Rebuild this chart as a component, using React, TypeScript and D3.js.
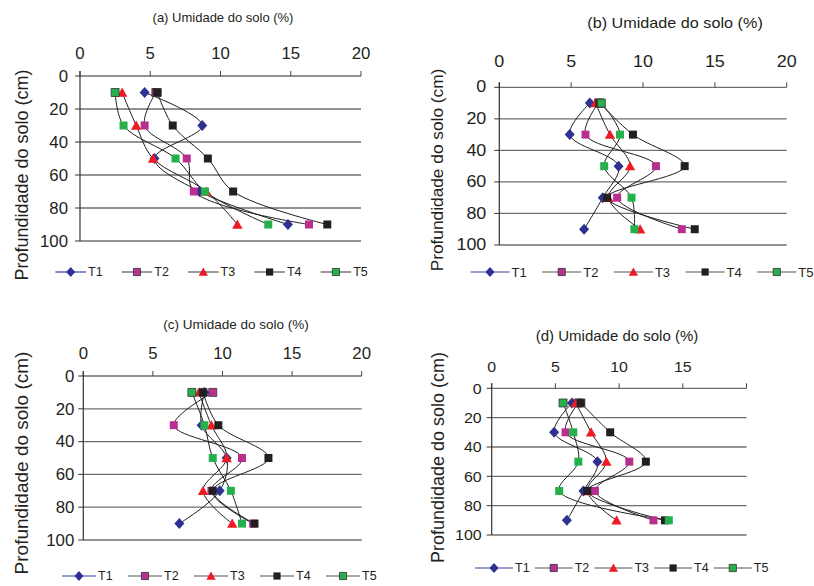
import React from 'react';
import * as d3 from 'd3';

// Sampling depths (cm) and treatments
const depths = [10, 30, 50, 70, 90];
const treatments = ['T1', 'T2', 'T3', 'T4', 'T5'];
const xTickValues = [0, 5, 10, 15, 20];
const yTickValues = [0, 20, 40, 60, 80, 100];

// Soil moisture (%) per treatment (rows T1..T5) at each depth
const moistureA = [
  [4.6, 8.7, 5.3, 8.5, 14.8],
  [5.4, 4.6, 7.6, 8.1, 16.3],
  [3.0, 4.0, 5.2, 9.0, 11.2],
  [5.5, 6.6, 9.1, 10.9, 17.6],
  [2.5, 3.1, 6.8, 8.9, 13.4],
];
const moistureB = [
  [6.3, 4.9, 8.3, 7.2, 5.9],
  [6.9, 6.0, 10.9, 8.2, 12.7],
  [6.7, 7.7, 9.1, 7.6, 9.8],
  [7.0, 9.3, 12.9, 7.5, 13.6],
  [7.1, 8.4, 7.3, 9.2, 9.4],
];
const moistureC = [
  [8.7, 8.5, 10.3, 9.8, 6.9],
  [9.3, 6.5, 11.4, 9.2, 12.2],
  [8.3, 9.2, 10.3, 8.6, 10.7],
  [8.6, 9.7, 13.3, 9.3, 12.3],
  [7.8, 8.7, 9.3, 10.6, 11.4],
];
const moistureD = [
  [6.3, 4.9, 8.3, 7.2, 5.9],
  [6.8, 5.8, 10.8, 8.1, 12.7],
  [6.6, 7.8, 9.0, 7.5, 9.8],
  [7.0, 9.3, 12.1, 7.5, 13.6],
  [5.6, 6.4, 6.8, 5.3, 13.9],
];

const markerColors = ['#2E3192', '#B8308F', '#ED1C24', '#231F20', '#25B04B'];
const markerShapes = ['diamond', 'square', 'triangle', 'square', 'square'];
const legendLineColors = ['#3B3F9C', '#555', '#555', '#555', '#555'];

const FONT = "'Liberation Sans', Arial, Helvetica, sans-serif";

function markerPath(shape: string): string {
  if (shape === 'diamond') return 'M0,-5.5L5,0L0,5.5L-5,0Z';
  if (shape === 'triangle') return 'M0,-5L5.2,4.2L-5.2,4.2Z';
  return 'M-4,-4H4V4H-4Z';
}

type Layout = {
  title: string;
  x0: number; x1: number; y0: number; y1: number;
  titleX: number; titleY: number; titleSize: number; titleStretch: number;
  tickSize: number; tickStretch: number; xTickY: number; yLabelGap: number;
  yTitleX: number; yTitleY: number; yTitleSize: number;
  legendX: number; legendY: number; legendStep: number; legendText: number; legendSize: number;
  maxLabel: number;
};

const layouts: Layout[] = [
  {
    title: '(a) Umidade do solo (%)',
    x0: 80, x1: 361, y0: 76, y1: 241,
    titleX: 223, titleY: 17, titleSize: 13, titleStretch: 1,
    tickSize: 16, tickStretch: 1.05, xTickY: 53, yLabelGap: 12,
    yTitleX: 22, yTitleY: 175, yTitleSize: 18,
    legendX: 70.7, legendY: 272, legendStep: 66.3, legendText: 17.3, legendSize: 12.5,
    maxLabel: 20,
  },
  {
    title: '(b) Umidade do solo (%)',
    x0: 499.3, x1: 786.7, y0: 87.3, y1: 245,
    titleX: 675, titleY: 23, titleSize: 15, titleStretch: 1.08,
    tickSize: 16, tickStretch: 1.12, xTickY: 62, yLabelGap: 13,
    yTitleX: 437, yTitleY: 170, yTitleSize: 17.3,
    legendX: 490, legendY: 272, legendStep: 71.7, legendText: 21.5, legendSize: 13,
    maxLabel: 20,
  },
  {
    title: '(c) Umidade do solo (%)',
    x0: 83.3, x1: 361.7, y0: 376, y1: 540,
    titleX: 236, titleY: 324, titleSize: 13.5, titleStretch: 1,
    tickSize: 16, tickStretch: 1.05, xTickY: 353, yLabelGap: 9,
    yTitleX: 21, yTitleY: 463, yTitleSize: 19,
    legendX: 79, legendY: 576, legendStep: 66, legendText: 19, legendSize: 12.5,
    maxLabel: 20,
  },
  {
    title: '(d) Umidade do solo (%)',
    x0: 491.7, x1: 746.5, y0: 388.3, y1: 535,
    titleX: 617, titleY: 335, titleSize: 15, titleStretch: 1,
    tickSize: 14.5, tickStretch: 1.1, xTickY: 367, yLabelGap: 10,
    yTitleX: 438, yTitleY: 457.5, yTitleSize: 18,
    legendX: 494, legendY: 568, legendStep: 59.7, legendText: 21, legendSize: 12.5,
    maxLabel: 15,
  },
];

const panelData = [moistureA, moistureB, moistureC, moistureD];

function StretchText(props: {
  x: number; y: number; sx: number; size: number; anchor: string; children: React.ReactNode;
}) {
  const { x, y, sx, size, anchor, children } = props;
  return (
    <text
      transform={`translate(${x},${y}) scale(${sx},1)`}
      fontFamily={FONT}
      fontSize={size}
      textAnchor={anchor}
      dominantBaseline="central"
      fill="#231F20"
    >
      {children}
    </text>
  );
}

function Panel({ layout, data }: { layout: Layout; data: number[][] }) {
  const x = d3.scaleLinear().domain([0, 20]).range([layout.x0, layout.x1]);
  const y = d3.scaleLinear().domain([0, 100]).range([layout.y0, layout.y1]);
  const line = d3
    .line<number>()
    .x((d) => x(d))
    .y((_, i) => y(depths[i]))
    .curve(d3.curveCatmullRom.alpha(0.5));

  return (
    <g>
      <StretchText x={layout.titleX} y={layout.titleY} sx={layout.titleStretch} size={layout.titleSize} anchor="middle">
        {layout.title}
      </StretchText>

      {/* horizontal grid lines */}
      {yTickValues.map((t) => (
        <line key={'g' + t} x1={layout.x0} x2={layout.x1} y1={y(t)} y2={y(t)} stroke="#6E6E6E" strokeWidth={1.3} />
      ))}
      {/* top axis ticks */}
      {xTickValues.map((t) => (
        <line key={'xt' + t} x1={x(t)} x2={x(t)} y1={layout.y0} y2={layout.y0 - 5} stroke="#444" strokeWidth={1} />
      ))}
      {xTickValues
        .filter((t) => t <= layout.maxLabel)
        .map((t) => (
          <StretchText key={'xl' + t} x={x(t)} y={layout.xTickY} sx={layout.tickStretch} size={layout.tickSize} anchor="middle">
            {t}
          </StretchText>
        ))}
      {/* left axis */}
      <line x1={layout.x0} x2={layout.x0} y1={layout.y0 - 5} y2={layout.y1} stroke="#333" strokeWidth={1.2} />
      {yTickValues.map((t) => (
        <line key={'yt' + t} x1={layout.x0 - 5} x2={layout.x0} y1={y(t)} y2={y(t)} stroke="#333" strokeWidth={1} />
      ))}
      {yTickValues.map((t) => (
        <StretchText key={'yl' + t} x={layout.x0 - layout.yLabelGap} y={y(t)} sx={layout.tickStretch} size={layout.tickSize} anchor="end">
          {t}
        </StretchText>
      ))}
      <text
        transform={`translate(${layout.yTitleX},${layout.yTitleY}) rotate(-90)`}
        fontFamily={FONT}
        fontSize={layout.yTitleSize}
        textAnchor="middle"
        dominantBaseline="central"
        fill="#231F20"
      >
        Profundidade do solo (cm)
      </text>

      {/* profiles */}
      {data.map((vals, s) => (
        <path key={'l' + s} d={line(vals) || ''} fill="none" stroke="#1E1E1E" strokeWidth={1} />
      ))}
      {data.map((vals, s) => (
        <g key={'m' + s}>
          {vals.map((v, i) => (
            <path
              key={i}
              d={markerPath(markerShapes[s])}
              transform={`translate(${x(v)},${y(depths[i])})`}
              fill={markerColors[s]}
              stroke={i === 0 && markerShapes[s] === 'square' ? '#333' : 'none'}
              strokeWidth={0.8}
            />
          ))}
        </g>
      ))}

      {/* legend */}
      {treatments.map((name, s) => {
        const cx = layout.legendX + s * layout.legendStep;
        const half = layout.legendText - 2;
        return (
          <g key={'lg' + s}>
            <line x1={cx - half} x2={cx + half} y1={layout.legendY} y2={layout.legendY} stroke={legendLineColors[s]} strokeWidth={1.2} />
            <path
              d={markerPath(markerShapes[s])}
              transform={`translate(${cx},${layout.legendY}) scale(0.9)`}
              fill={markerColors[s]}
              stroke={s === 1 || s === 4 ? '#333' : 'none'}
              strokeWidth={0.9}
            />
            <text
              x={cx + layout.legendText}
              y={layout.legendY}
              fontFamily={FONT}
              fontSize={layout.legendSize}
              dominantBaseline="central"
              fill="#231F20"
            >
              {name}
            </text>
          </g>
        );
      })}
    </g>
  );
}

export default function App() {
  return (
    <svg
      width={814}
      height={586}
      style={{ position: 'absolute', left: 0, top: 0, background: '#fff' }}
    >
      <rect width={814} height={586} fill="#fff" />
      {layouts.map((l, i) => (
        <Panel key={i} layout={l} data={panelData[i]} />
      ))}
    </svg>
  );
}
